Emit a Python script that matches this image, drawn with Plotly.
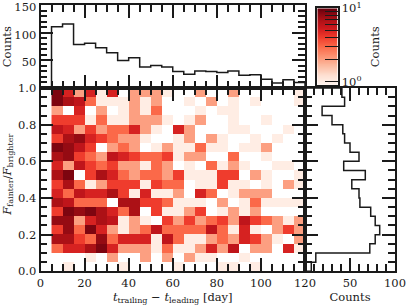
import numpy as np
import plotly.graph_objects as go

W, H = 407, 305
FONT = "DejaVu Serif"
INK = "#1a1a1a"

x_edges = list(range(5, 125, 5))
y_edges = [round(0.05 * i, 2) for i in range(21)]

counts_top = [111, 116, 79, 81, 73, 64, 50, 55, 38, 41, 38, 30, 25, 31, 30, 28, 31, 23, 24, 16, 9, 15, 10]
counts_right = [41, 44, 19, 30, 42, 44, 50, 60, 43, 67, 52, 60, 61, 73, 78, 83, 78, 72, 12, 7]  # top to bottom

grid_rows = [  # top row (F ratio 0.95-1.0) first
    [9,5,2,5,1,5,0,2,2,2,1,0,0,2,0,0,2,0,0,0,0,0,1],
    [9,7,6,3,1,1,1,2,1,2,0,0,1,0,2,0,1,0,1,0,0,0,1],
    [2,0,5,0,2,0,1,2,1,3,0,0,0,1,0,1,1,0,0,0,0,0,0],
    [4,4,4,1,3,1,1,2,2,2,1,0,1,2,0,0,1,0,0,1,0,0,0],
    [6,5,2,4,2,3,3,5,2,1,0,5,2,0,0,0,1,1,0,0,0,1,0],
    [4,7,8,5,4,3,2,2,1,0,0,1,2,0,2,1,0,0,1,0,1,0,0],
    [9,8,6,4,0,2,3,2,0,1,2,1,1,3,1,1,0,1,1,2,0,0,0],
    [7,8,4,3,2,6,5,4,3,3,4,1,2,2,0,0,3,0,0,1,0,0,0],
    [5,2,6,4,3,4,2,2,1,3,2,0,1,0,3,1,2,1,0,0,1,1,0],
    [7,9,0,4,7,5,3,2,3,3,2,4,1,1,1,4,4,0,2,1,0,0,1],
    [4,7,3,1,2,4,4,4,1,4,3,3,0,1,1,4,1,1,0,1,0,2,1],
    [5,3,6,5,5,7,4,1,5,1,1,2,0,5,3,0,1,2,2,2,0,0,0],
    [7,6,3,3,3,0,7,7,4,4,3,1,1,1,0,2,0,1,3,1,1,1,1],
    [4,9,8,9,7,5,3,7,0,4,1,1,2,4,0,1,2,1,2,0,0,0,0],
    [8,8,2,5,7,6,1,2,1,0,4,2,4,2,3,4,2,6,4,3,2,1,2],
    [4,8,3,9,5,2,1,2,3,6,3,3,3,3,6,3,1,5,1,0,2,4,2],
    [7,7,4,3,8,3,5,5,5,1,6,3,1,1,2,3,2,5,4,2,1,0,2],
    [3,5,5,7,9,5,2,2,2,1,3,1,1,2,5,2,6,0,2,2,0,5,1],
    [0,0,0,1,0,2,0,0,2,0,2,0,2,1,1,0,0,1,0,0,0,0,0],
    [0,1,0,0,0,0,1,0,0,0,0,1,0,0,0,1,1,0,1,0,0,0,0],
]

cbar_ticks = [1, 10]
cbar_ticktext = ["10<sup>0</sup>", "10<sup>1</sup>"]
cbar_minor = [2, 3, 4, 5, 6, 7, 8, 9]
cbar_low = 0.89

reds = ["#fff5f0", "#fee0d2", "#fcbba1", "#fc9272", "#fb6a4a",
        "#ef3b2c", "#cb181d", "#a50f15", "#67000d"]
colorscale = [[i / 8, c] for i, c in enumerate(reds)]
zmin, zmax = float(np.log10(cbar_low)), 1.0

grid = np.array(grid_rows[::-1], dtype=float)
z = np.where(grid > 0, np.log10(np.where(grid > 0, grid, 1)), np.nan)

ramp = np.linspace(zmin, zmax, 120)
ramp_edges = 10 ** np.linspace(zmin, zmax, 121)

px = lambda v: v / W
py = lambda v: 1 - v / H
L, M, R = 40.5, 305.0, 395.0
T, C, B = 5.3, 88.0, 271.3

fig = go.Figure()
fig.add_trace(go.Heatmap(
    x=x_edges, y=y_edges, z=z, xaxis="x", yaxis="y",
    colorscale=colorscale, zmin=zmin, zmax=zmax, hoverongaps=False, showscale=False,
))
fig.add_trace(go.Scatter(
    x=[5] + list(np.repeat(x_edges, 2)[1:-1]) + [120],
    y=[0] + list(np.repeat(counts_top, 2)) + [0],
    xaxis="x2", yaxis="y2", mode="lines", line=dict(color=INK, width=1.5), showlegend=False,
))
right_bottom_up = counts_right[::-1]
fig.add_trace(go.Scatter(
    x=[0] + list(np.repeat(right_bottom_up, 2)) + [0],
    y=[0] + list(np.repeat(y_edges, 2)[1:-1]) + [1],
    xaxis="x3", yaxis="y3", mode="lines", line=dict(color=INK, width=1.5), showlegend=False,
))
fig.add_trace(go.Heatmap(
    x=[0, 1], y=ramp_edges, z=ramp.reshape(-1, 1), xaxis="x4", yaxis="y4",
    colorscale=colorscale, zmin=zmin, zmax=zmax, showscale=False, hoverinfo="skip",
))

FS = 11.5
tick = dict(ticks="inside", ticklen=13, tickwidth=1.5, tickcolor=INK, automargin=False,
            showline=True, linewidth=1.8, linecolor=INK, mirror="ticks",
            showgrid=False, zeroline=False, ticklabeloverflow="allow",
            tickfont=dict(family=FONT, size=FS, color=INK))
minor = lambda d: dict(dtick=d, ticks="inside", ticklen=7, tickwidth=1.5, tickcolor=INK, showgrid=False)
title = lambda s, st: dict(text=s, font=dict(family=FONT, size=FS, color=INK), standoff=st)

layout = dict(
    width=W, height=H, autosize=False,
    margin=dict(l=0, r=0, t=0, b=0, pad=0), paper_bgcolor="white", plot_bgcolor="white",
    showlegend=False,
    xaxis=dict(domain=[px(L), px(M)], range=[0, 120], dtick=20, tick0=0, minor=minor(5), anchor="y",
               title=title("<i>t</i><sub>trailing</sub> − <i>t</i><sub>leading</sub> [day]", 1), **tick),
    yaxis=dict(domain=[py(B), py(C)], range=[0, 1], dtick=0.2, tick0=0, minor=minor(0.05), anchor="x",
               tickformat=".1f",
               title=title("&nbsp;&nbsp;&nbsp;<i>F</i><sub>fainter</sub>/<i>F</i><sub>brighter</sub>", 13), **tick),
    xaxis2=dict(domain=[px(L), px(M)], range=[0, 120], dtick=20, tick0=0, minor=minor(5), anchor="y2",
                showticklabels=False, **tick),
    yaxis2=dict(domain=[py(C), py(T)], range=[0, 150], tickvals=[50, 100, 150], minor=minor(10), anchor="x2",
                ticklabelshift=2, title=title("Counts", 5), **tick),
    xaxis3=dict(domain=[px(M), px(R)], range=[0, 100], tickvals=[50, 100], minor=minor(10), anchor="y3",
                title=title("Counts", 1), **tick),
    yaxis3=dict(domain=[py(B), py(C)], range=[0, 1], dtick=0.2, tick0=0, minor=minor(0.05), anchor="x3",
                showticklabels=False, **tick),
    xaxis4=dict(domain=[px(317.3), px(337.7)], range=[0, 1], anchor="y4", showticklabels=False, ticks="",
                automargin=False,
                showline=True, linewidth=1.6, linecolor=INK, mirror=True, showgrid=False, zeroline=False),
    yaxis4=dict(domain=[py(85.3), py(8.3)], type="log", range=[zmin, zmax], anchor="x4", side="right",
                tickmode="array", tickvals=cbar_ticks, ticktext=cbar_ticktext, automargin=False,
                ticks="inside", ticklen=13, tickwidth=1.3, tickcolor=INK,
                minor=dict(tickmode="array", tickvals=cbar_minor, ticks="inside", ticklen=13, tickwidth=1.3,
                           tickcolor=INK, showgrid=False),
                showline=True, linewidth=1.6, linecolor=INK, mirror=True, showgrid=False, zeroline=False,
                tickfont=dict(family=FONT, size=FS, color=INK),
                title=title("Counts", 10)),
)
fig.update_layout(**layout)
fig.write_html("out.html", config=dict(displayModeBar=False),
               post_script="document.body.style.margin='0';")
